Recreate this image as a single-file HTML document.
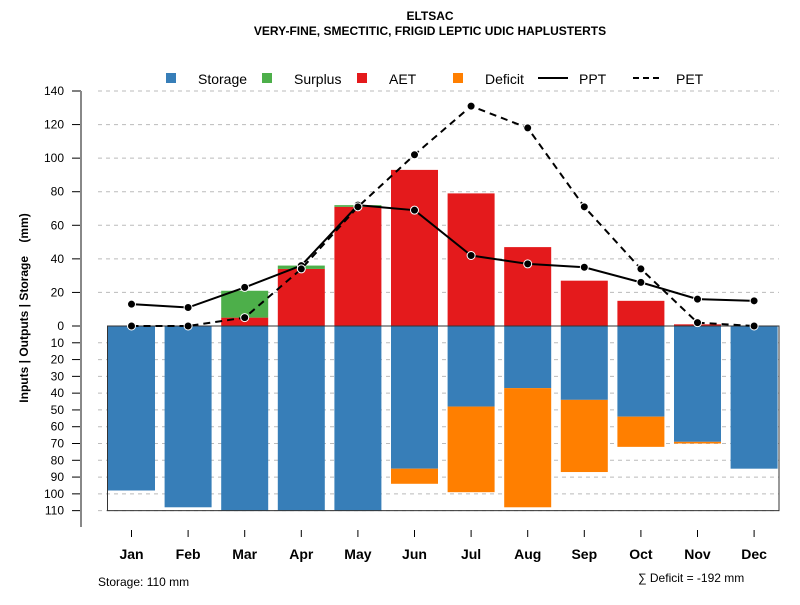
<!DOCTYPE html>
<html><head><meta charset="utf-8"><style>
body{margin:0;background:#fff}
text{font-family:"Liberation Sans",sans-serif}
</style></head><body>
<svg id="c" width="800" height="600" xmlns="http://www.w3.org/2000/svg">
<text x="430" y="20" text-anchor="middle" font-size="12" font-weight="bold">ELTSAC</text>
<text x="430" y="35" text-anchor="middle" font-size="12" font-weight="bold">VERY-FINE, SMECTITIC, FRIGID LEPTIC UDIC HAPLUSTERTS</text>
<g id="legend">
<rect x="166" y="73" width="10" height="10" fill="#377eb8"/>
<text x="198" y="84" font-size="14">Storage</text>
<rect x="262" y="73" width="10" height="10" fill="#4daf4a"/>
<text x="294" y="84" font-size="14">Surplus</text>
<rect x="357" y="73" width="10" height="10" fill="#e41a1c"/>
<text x="389" y="84" font-size="14">AET</text>
<rect x="453" y="73" width="10" height="10" fill="#ff7f00"/>
<text x="485" y="84" font-size="14">Deficit</text>
<line x1="538" y1="78" x2="568" y2="78" stroke="#000" stroke-width="2"/>
<text x="579" y="84" font-size="14">PPT</text>
<line x1="633" y1="78" x2="663" y2="78" stroke="#000" stroke-width="2" stroke-dasharray="6,4"/>
<text x="676" y="84" font-size="14">PET</text>
</g>
<text transform="translate(28,308) rotate(-90)" text-anchor="middle" font-size="12" font-weight="bold" style="white-space:pre">Inputs | Outputs | Storage    (mm)</text>
<text x="98" y="586" font-size="12">Storage: 110 mm</text>
<text x="638" y="582" font-size="12">∑ Deficit = -192 mm</text>
<g id="grid"></g><g id="bars"></g><g id="axes"></g><g id="lines"></g>
</svg>
<script>
const months=["Jan","Feb","Mar","Apr","May","Jun","Jul","Aug","Sep","Oct","Nov","Dec"];
const storage=[98,108,110,110,110,85,48,37,44,54,69,85];
const deficit=[0,0,0,0,0,9,51,71,43,18,1,0];
const aet=[0,0,5,34,71,93,79,47,27,15,1,0];
const surplus=[0,0,16,2,1,0,0,0,0,0,0,0];
const ppt=[13,11,23,36,72,69,42,37,35,26,16,15];
const pet=[0,0,5,34,71,102,131,118,71,34,2,0];
const upTicks=[0,20,40,60,80,100,120,140];
const downTicks=[10,20,30,40,50,60,70,80,90,100,110];
const NS="http://www.w3.org/2000/svg";
const y0=326,k=235/140;
const yv=v=>y0-v*k;
const xs=i=>108+i*56.6, bw=47, xc=i=>xs(i)+bw/2;
function el(t,a,p){const e=document.createElementNS(NS,t);for(const q in a)e.setAttribute(q,a[q]);document.getElementById(p).appendChild(e);return e;}
upTicks.concat(downTicks.map(v=>-v)).forEach(v=>{
 if(v!==0){const g=el('line',{x1:98,x2:779,y1:yv(v),y2:yv(v),stroke:'#bbb','stroke-dasharray':'4,4'},'grid');
 
 }
 const t=el('line',{x1:72,x2:81,y1:yv(v),y2:yv(v),stroke:'#000'},'axes');
 
 
 const l=el('text',{x:64,y:yv(v)+4,'text-anchor':'end','font-size':12},'axes');l.textContent=Math.abs(v);
 
 
});
months.forEach((m,i)=>{
 const x=xs(i);
 let r=el('rect',{x:x,y:y0,width:bw,height:storage[i]*k,fill:'#377eb8'},'bars');
 
 
 if(deficit[i]){r=el('rect',{x:x,y:yv(-storage[i]),width:bw,height:deficit[i]*k,fill:'#ff7f00'},'bars');
 
 }
 if(aet[i]){r=el('rect',{x:x,y:yv(aet[i]),width:bw,height:aet[i]*k,fill:'#e41a1c'},'bars');
 
 }
 if(surplus[i]){r=el('rect',{x:x,y:yv(aet[i]+surplus[i]),width:bw,height:surplus[i]*k,fill:'#4daf4a'},'bars');
 
 }
 const t=el('line',{x1:xc(i),x2:xc(i),y1:530,y2:537,stroke:'#000'},'axes');
 
 
 const l=el('text',{x:xc(i),y:559,'text-anchor':'middle','font-size':14,'font-weight':'bold'},'axes');l.textContent=m;
 
 
});
let b=el('rect',{x:107.5,y:y0,width:671.5,height:110*k,fill:'none',stroke:'#333'},'axes');


b=el('line',{x1:81,x2:81,y1:91,y2:527,stroke:'#888',"stroke-width":2},'axes');


[[ppt,'','ppt-line'],[pet,'7,5','pet-line']].forEach(([d,da,n])=>{
 const p=el('polyline',{points:d.map((v,i)=>xc(i)+','+yv(v)).join(' '),fill:'none',stroke:'#000','stroke-width':2,'stroke-dasharray':da},'lines');
 
 
 d.forEach((v,i)=>{const c=el('circle',{cx:xc(i),cy:yv(v),r:4,fill:'#000',stroke:'#fff','stroke-width':1},'lines');
 
 });
});
</script>
</body></html>
